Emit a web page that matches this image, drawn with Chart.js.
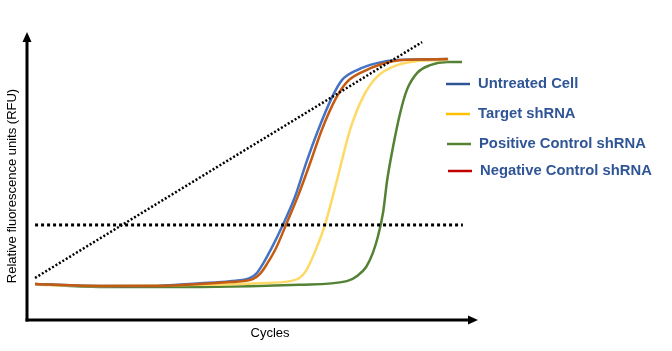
<!DOCTYPE html>
<html>
<head>
<meta charset="utf-8">
<script src="https://cdn.jsdelivr.net/npm/chart.js@4.4.0/dist/chart.umd.min.js"></script>
<style>
html,body{margin:0;padding:0;background:#fff;}
#wrap{width:672px;height:351px;position:relative;}
</style>
</head>
<body>
<div id="wrap"><canvas id="c" width="672" height="351"></canvas></div>
<script>
// Series names
const seriesNames = ["Untreated Cell", "Target shRNA", "Positive Control shRNA", "Negative Control shRNA"];
// Cycle positions (x) and RFU (y), per series
const untreatedX = [1.8, 16.3, 27.5, 38.6, 45.3, 49.8, 51.3, 52.7, 54.7, 57.1, 59.8, 62.3, 65.0, 68.1, 70.3, 73.7, 78.1, 82.6, 93.8];
const untreatedY = [12.5, 11.8, 11.8, 12.8, 13.5, 14.6, 16.3, 19.6, 25.3, 33.0, 42.7, 54.5, 66.0, 77.4, 83.3, 86.8, 89.2, 90.3, 90.6];
const targetX = [1.8, 16.3, 38.6, 52.0, 58.7, 61.0, 62.4, 64.7, 66.5, 69.2, 72.1, 75.0, 78.1, 82.6, 87.1, 93.8];
const targetY = [12.2, 11.8, 12.2, 12.8, 13.5, 14.8, 17.4, 25.3, 33.0, 48.6, 66.0, 77.4, 84.4, 88.5, 89.9, 90.3];
const positiveX = [1.8, 16.3, 38.6, 60.9, 71.4, 73.7, 75.7, 77.2, 78.3, 79.5, 80.4, 81.7, 83.3, 84.8, 87.1, 90.0, 93.8, 97.1];
const positiveY = [12.5, 11.5, 11.5, 12.2, 13.5, 15.3, 18.4, 23.3, 28.8, 37.5, 48.6, 60.1, 71.9, 79.9, 85.8, 88.5, 89.6, 89.6];
const negativeX = [1.8, 16.3, 27.5, 38.6, 45.3, 50.4, 52.0, 53.5, 55.6, 57.8, 60.5, 63.2, 65.8, 69.0, 71.4, 74.8, 79.2, 83.7, 94.0];
const negativeY = [12.5, 11.8, 11.8, 12.5, 13.2, 14.2, 16.0, 19.3, 25.0, 33.0, 43.1, 54.5, 66.0, 77.1, 82.6, 86.1, 88.9, 90.3, 90.6];
// Threshold line and exponential-phase guide line
const thresholdX = [1.8, 97.3];
const thresholdY = [33.0, 33.0];
const guideX = [1.8, 88.2];
const guideY = [14.6, 96.5];
// Axis titles
const xTitle = "Cycles";
const yTitle = "Relative fluorescence units (RFU)";

const pts = (xs, ys) => xs.map((x, i) => ({x, y: ys[i]}));
const curveColors = ["#4472C4", "#FFD966", "#548235", "#C55A11"];
const legendColors = ["#2F5597", "#FFC000", "#548235", "#C00000"];

const axesPlugin = {
  id: 'axesDraw',
  afterDatasetsDraw(chart) {
    const ctx = chart.ctx, a = chart.chartArea;
    ctx.save();
    ctx.strokeStyle = '#000'; ctx.fillStyle = '#000'; ctx.lineWidth = 3;
    // y axis
    ctx.beginPath(); ctx.moveTo(a.left, a.bottom + 1.5); ctx.lineTo(a.left, a.top + 8); ctx.stroke();
    ctx.beginPath(); ctx.moveTo(a.left, a.top); ctx.lineTo(a.left - 4.5, a.top + 10); ctx.lineTo(a.left + 4.5, a.top + 10); ctx.closePath(); ctx.fill();
    // x axis
    ctx.beginPath(); ctx.moveTo(a.left - 1.5, a.bottom); ctx.lineTo(a.right - 5, a.bottom); ctx.stroke();
    ctx.beginPath(); ctx.moveTo(a.right + 3, a.bottom); ctx.lineTo(a.right - 7, a.bottom - 4.5); ctx.lineTo(a.right - 7, a.bottom + 4.5); ctx.closePath(); ctx.fill();
    // titles
    ctx.font = '13px "Liberation Sans", Arial, sans-serif';
    ctx.textAlign = 'center'; ctx.textBaseline = 'middle';
    ctx.fillText(xTitle, 270, 333);
    ctx.translate(12, 186); ctx.rotate(-Math.PI / 2);
    ctx.fillText(yTitle, 0, 0);
    ctx.restore();
    // legend
    ctx.save();
    const rows = [84, 114, 144, 171];
    const lineX = [[446, 470], [446, 470], [447, 471], [448, 472]];
    ctx.font = 'bold 14.8px "Liberation Sans", Arial, sans-serif';
    ctx.textBaseline = 'middle'; ctx.textAlign = 'left';
    seriesNames.forEach((n, i) => {
      ctx.strokeStyle = legendColors[i]; ctx.lineWidth = 2.5;
      ctx.beginPath(); ctx.moveTo(lineX[i][0], rows[i]); ctx.lineTo(lineX[i][1], rows[i]); ctx.stroke();
      ctx.fillStyle = '#2F5597';
      ctx.fillText(n, lineX[i][1] + 8, rows[i]);
    });
    ctx.restore();
  }
};

const mk = (label, data, color, order) => ({
  label, data, borderColor: color, borderWidth: 2.5, pointRadius: 0,
  cubicInterpolationMode: 'monotone', fill: false, order
});

new Chart(document.getElementById('c'), {
  type: 'line',
  data: {
    datasets: [
      {label: 'threshold', data: pts(thresholdX, thresholdY), borderColor: '#000', borderWidth: 3, borderDash: [3, 3], pointRadius: 0, order: 0},
      {label: 'guide', data: pts(guideX, guideY), borderColor: '#000', borderWidth: 2.5, borderDash: [2, 2], pointRadius: 0, order: 0},
      mk(seriesNames[0], pts(untreatedX, untreatedY), curveColors[0], 2),
      mk(seriesNames[1], pts(targetX, targetY), curveColors[1], 3),
      mk(seriesNames[2], pts(positiveX, positiveY), curveColors[2], 4),
      mk(seriesNames[3], pts(negativeX, negativeY), curveColors[3], 1)
    ]
  },
  options: {
    responsive: false, animation: false,
    layout: {padding: {left: 27, right: 197, top: 32, bottom: 31}},
    plugins: {legend: {display: false}, tooltip: {enabled: false}},
    scales: {
      x: {type: 'linear', min: 0, max: 100, display: false},
      y: {type: 'linear', min: 0, max: 100, display: false}
    }
  },
  plugins: [axesPlugin]
});
</script>
</body>
</html>
